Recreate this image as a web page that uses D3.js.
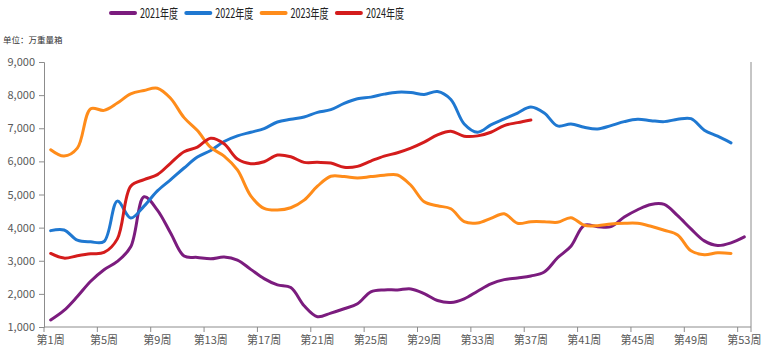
<!DOCTYPE html>
<html>
<head>
<meta charset="utf-8">
<script src="https://cdn.jsdelivr.net/npm/d3@7"></script>
<style>
  body { margin: 0; background: #fff; }
  text { font-family: "Noto Sans CJK SC", "Noto Sans", sans-serif; }
</style>
</head>
<body>
<svg id="chart"></svg>
<script>
const WIDTH = 770;
const HEIGHT = 351;
const LEFT = 44;
const RIGHT = 751;
const TOP = 62;
const BOTTOM = 327;

// categories
const weeks = d3.range(1, 54).map(i => `第${i}周`);
const tickWeeks = ['第1周', '第5周', '第9周', '第13周', '第17周', '第21周', '第25周',
  '第29周', '第33周', '第37周', '第41周', '第45周', '第49周', '第53周'];
const yTicks = [1000, 2000, 3000, 4000, 5000, 6000, 7000, 8000, 9000];
const seriesNames = ['2021年度', '2022年度', '2023年度', '2024年度'];
const seriesColors = ['#7b1c7e', '#1f78d1', '#ff8c1a', '#d41c1c'];

// values, 万重量箱
const values2021 = [1210, 1500, 1920, 2380, 2730, 2980, 3420, 4930, 4530, 3830,
  3140, 3100, 3060, 3110, 3020, 2740, 2460, 2270, 2190, 1640,
  1310, 1420, 1550, 1700, 2060, 2120, 2120, 2150, 2010, 1800,
  1740, 1850, 2080, 2300, 2430, 2480, 2540, 2660, 3090, 3440,
  4070, 4030, 4030, 4320, 4540, 4700, 4700, 4360, 3960, 3600,
  3460, 3540, 3720];
const values2022 = [3910, 3930, 3620, 3570, 3580, 4800, 4290, 4650, 5110, 5450,
  5800, 6130, 6330, 6600, 6770, 6880, 6990, 7190, 7270, 7340,
  7480, 7560, 7750, 7890, 7940, 8030, 8090, 8080, 8020, 8110,
  7870, 7130, 6880, 7100, 7280, 7460, 7640, 7460, 7070, 7130,
  7030, 6980, 7080, 7200, 7270, 7230, 7200, 7270, 7290, 6940,
  6760, 6560];
const values2023 = [6350, 6160, 6400, 7590, 7540, 7760, 8040, 8140, 8210, 7900,
  7320, 6930, 6420, 6160, 5740, 4960, 4580, 4530, 4600, 4830,
  5250, 5550, 5540, 5500, 5540, 5580, 5590, 5280, 4780, 4660,
  4570, 4180, 4140, 4280, 4420, 4130, 4180, 4180, 4160, 4300,
  4070, 4060, 4110, 4130, 4130, 4040, 3920, 3780, 3300, 3180,
  3240, 3220];
const values2024 = [3220, 3080, 3150, 3210, 3250, 3660, 5250, 5450, 5600, 5950,
  6290, 6430, 6700, 6530, 6070, 5930, 5990, 6190, 6140, 5970,
  5970, 5950, 5820, 5850, 6010, 6160, 6260, 6400, 6580, 6800,
  6910, 6760, 6770, 6880, 7080, 7170, 7250];

const seriesValues = [values2021, values2022, values2023, values2024];

const svg = d3.select('#chart').attr('width', WIDTH).attr('height', HEIGHT);

const xScale = d3.scaleBand().domain(weeks).range([LEFT, RIGHT]).padding(0);
const yScale = d3.scaleLinear().domain([1000, 9000]).range([BOTTOM, TOP]);

const axisColor = '#8c8c8c';
const labelColor = '#595959';

// y axis
const yAxis = svg.append('g')
  .attr('transform', `translate(${LEFT},0)`)
  .call(d3.axisLeft(yScale).tickValues(yTicks).tickSize(5).tickPadding(4)
    .tickFormat(d3.format(',')));
yAxis.select('.domain').attr('stroke', axisColor);
yAxis.selectAll('.tick line').attr('stroke', axisColor);
yAxis.selectAll('.tick text').attr('fill', labelColor).style('font-size', '11px');

// right frame line
svg.append('line')
  .attr('x1', RIGHT).attr('x2', RIGHT)
  .attr('y1', TOP).attr('y2', BOTTOM + 5)
  .attr('stroke', axisColor);

// x axis: ticks at band edges, labels centered in band
const xAxis = svg.append('g');
xAxis.append('line')
  .attr('x1', LEFT).attr('x2', RIGHT)
  .attr('y1', BOTTOM).attr('y2', BOTTOM)
  .attr('stroke', axisColor);
xAxis.selectAll('.xtick')
  .data(tickWeeks)
  .join('line')
  .attr('class', 'xtick')
  .attr('x1', d => xScale(d)).attr('x2', d => xScale(d))
  .attr('y1', BOTTOM).attr('y2', BOTTOM + 5)
  .attr('stroke', axisColor);
xAxis.selectAll('.xlabel')
  .data(tickWeeks)
  .join('text')
  .attr('class', 'xlabel')
  .attr('x', d => xScale(d) + xScale.bandwidth() / 2)
  .attr('y', BOTTOM + 17)
  .attr('text-anchor', 'middle')
  .attr('fill', labelColor)
  .style('font-size', '11px')
  .text(d => d);

// unit label
svg.append('text')
  .attr('x', 3)
  .attr('y', 43)
  .attr('fill', '#333')
  .style('font-size', '8.5px')
  .text('单位：万重量箱');

// lines
const line = d3.line()
  .x((d, i) => xScale(weeks[i]) + xScale.bandwidth() / 2)
  .y(d => yScale(d))
  .curve(d3.curveCatmullRom.alpha(0.5));

svg.selectAll('.series')
  .data(seriesValues)
  .join('path')
  .attr('class', 'series')
  .attr('fill', 'none')
  .attr('stroke', (_, i) => seriesColors[i])
  .attr('stroke-width', 3)
  .attr('stroke-linejoin', 'round')
  .attr('stroke-linecap', 'round')
  .attr('d', line);

// legend
const legend = svg.append('g').attr('transform', 'translate(110,13)');
const items = legend.selectAll('.item')
  .data(seriesNames)
  .join('g')
  .attr('class', 'item')
  .attr('transform', (_, i) => `translate(${i * 75.3},0)`);
items.append('line')
  .attr('x1', 1).attr('x2', 25)
  .attr('y1', 0).attr('y2', 0)
  .attr('stroke', (_, i) => seriesColors[i])
  .attr('stroke-width', 4)
  .attr('stroke-linecap', 'round');
items.append('text')
  .attr('x', 30)
  .attr('y', 5)
  .attr('fill', '#222')
  .style('font-size', '13px')
  .attr('textLength', 38)
  .attr('lengthAdjust', 'spacingAndGlyphs')
  .text(d => d);
</script>
</body>
</html>
